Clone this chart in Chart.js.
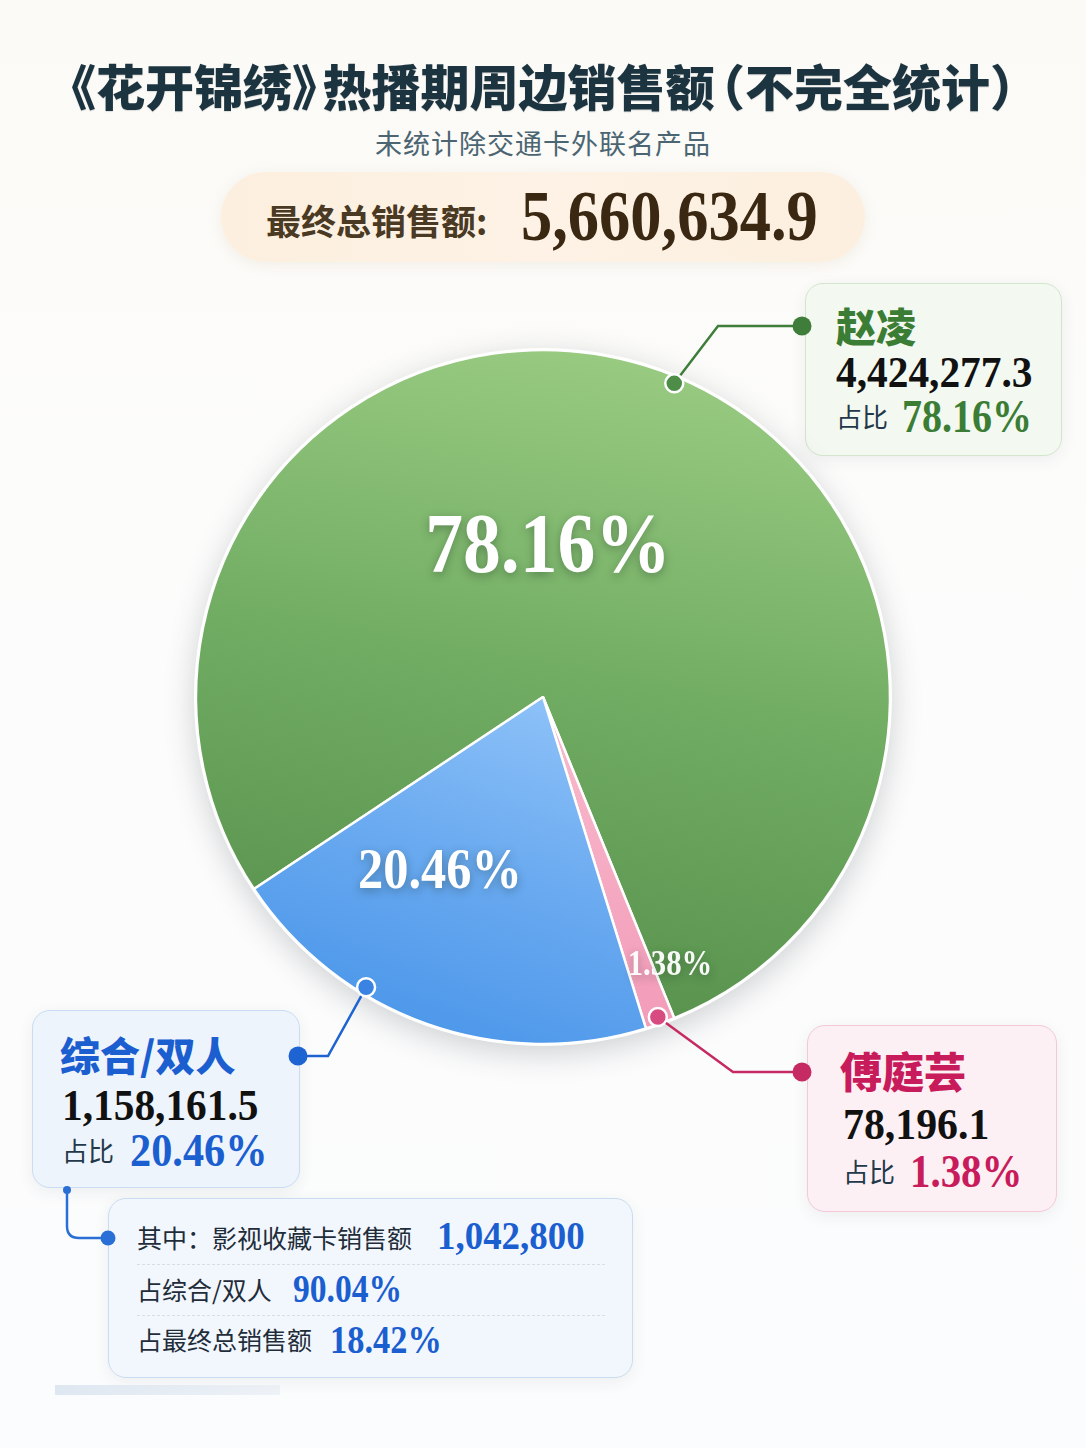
<!DOCTYPE html>
<html lang="zh-CN">
<head>
<meta charset="utf-8">
<title>《花开锦绣》热播期周边销售额</title>
<script src="https://cdn.jsdelivr.net/npm/chart.js@4.4.1/dist/chart.umd.min.js"></script>
<style>
html, body { margin: 0; padding: 0; background: #fcfcfb; }
#page {
    position: relative; width: 1086px; height: 1448px; overflow: hidden;
    background: linear-gradient(#fbfaf6 0%, #fcfcfb 35%, #fbfcfd 100%);
    font-family: "Noto Sans CJK SC", "Noto Sans", sans-serif;
}
#chart4 { position: absolute; left: 0; top: 0; z-index: 3; pointer-events: none; }
.abs { position: absolute; white-space: nowrap; line-height: 1; }
.num {
    font-family: "Liberation Serif", "DejaVu Serif", serif; font-weight: 700;
    transform-origin: left top;
}
.cjk { font-family: "Noto Sans CJK SC", sans-serif; }
.title {
    left: 0; width: 1086px; top: 60px; text-align: center;
    font-size: 49px; font-weight: 900; color: #1c3440;
    font-feature-settings: "halt";
    text-shadow: 0 1px 1px rgba(0,0,0,0.12);
}
.title span { display: inline-block; width: 6px; }
.subtitle { left: 0; width: 1086px; top: 129px; text-align: center; font-size: 27px; color: #4b6572; letter-spacing: 1px; }
.pill {
    position: absolute; left: 221px; top: 172px; width: 644px; height: 90px; border-radius: 45px;
    background: linear-gradient(90deg, #fcefdf 0%, #fdf2e5 50%, #fcefdf 100%);
    box-shadow: 0 3px 14px rgba(180,140,90,0.12);
}
.box {
    position: absolute; border-radius: 18px; box-sizing: border-box;
    box-shadow: 0 4px 16px rgba(40,50,60,0.07);
}
.dash { position: absolute; left: 137px; width: 468px; border-top: 1.5px dashed #d6dee8; height: 0; }
.faint {
    position: absolute; left: 55px; top: 1385px; width: 225px; height: 10px;
    background: linear-gradient(90deg, rgba(210,222,236,0.7), rgba(225,233,242,0.5));
}
</style>
</head>
<body>
<div id="page">
    <div class="abs title">《花开锦绣》<span></span>热播期周边销售额<span></span>（不完全统计）</div>
    <div class="abs subtitle">未统计除交通卡外联名产品</div>

    <div class="pill"></div>
    <div class="abs cjk" style="left:266px;top:202px;font-size:35px;font-weight:700;color:#4a3923;">最终总销售额:</div>
    <div class="abs num" id="total" style="left:521px;top:181px;font-size:71px;color:#3b2812;transform:scaleX(0.88);"></div>

    <!-- 赵凌 -->
    <div class="box" style="left:805px;top:283px;width:257px;height:173px;background:#f3f8f1;border:1.5px solid #d3e5cc;"></div>
    <div class="abs cjk" id="name0" style="left:836px;top:305px;font-size:40px;font-weight:900;color:#3b7d35;"></div>
    <div class="abs num" id="val0" style="left:836px;top:351px;font-size:44px;color:#111;transform:scaleX(0.94);"></div>
    <div class="abs cjk" style="left:836px;top:403px;font-size:26px;color:#23394a;">占比</div>
    <div class="abs num" id="pct0" style="left:902px;top:394px;font-size:46px;color:#3b7d35;transform:scaleX(0.87);"></div>

    <!-- 综合/双人 -->
    <div class="box" style="left:32px;top:1010px;width:268px;height:178px;background:#eef4fc;border:1.5px solid #c9dcf4;"></div>
    <div class="abs cjk" id="name2" style="left:60px;top:1034px;font-size:40px;font-weight:900;color:#1b5ed0;"></div>
    <div class="abs num" id="val2" style="left:62px;top:1084px;font-size:44px;color:#111;transform:scaleX(0.94);"></div>
    <div class="abs cjk" style="left:62px;top:1137px;font-size:26px;color:#23394a;">占比</div>
    <div class="abs num" id="pct2" style="left:130px;top:1127px;font-size:47px;color:#1b5ed0;transform:scaleX(0.9);"></div>

    <!-- 傅庭芸 -->
    <div class="box" style="left:807px;top:1025px;width:250px;height:187px;background:#fdf0f4;border:1.5px solid #f4c8d7;"></div>
    <div class="abs cjk" id="name1" style="left:840px;top:1049px;font-size:42px;font-weight:900;color:#c81b5b;"></div>
    <div class="abs num" id="val1" style="left:843px;top:1103px;font-size:44px;color:#111;transform:scaleX(0.95);"></div>
    <div class="abs cjk" style="left:843px;top:1158px;font-size:26px;color:#23394a;">占比</div>
    <div class="abs num" id="pct1" style="left:910px;top:1148px;font-size:47px;color:#c81b5b;transform:scaleX(0.87);"></div>

    <!-- 其中 -->
    <div class="box" style="left:108px;top:1198px;width:525px;height:180px;background:#f2f7fd;border:1.5px solid #c9dcf2;"></div>
    <div class="abs cjk" style="left:137px;top:1225px;font-size:25px;color:#1f2d3a;">其中：影视收藏卡销售额</div>
    <div class="abs num" id="card" style="left:437px;top:1215px;font-size:41px;color:#1b5ed0;transform:scaleX(0.9);"></div>
    <div class="dash" style="top:1264px;"></div>
    <div class="abs cjk" style="left:137px;top:1277px;font-size:25px;color:#1f2d3a;">占综合/双人</div>
    <div class="abs num" id="cardShare" style="left:293px;top:1269px;font-size:40px;color:#1b5ed0;transform:scaleX(0.84);"></div>
    <div class="dash" style="top:1315px;"></div>
    <div class="abs cjk" style="left:137px;top:1327px;font-size:25px;color:#1f2d3a;">占最终总销售额</div>
    <div class="abs num" id="cardTotal" style="left:330px;top:1320px;font-size:40px;color:#1b5ed0;transform:scaleX(0.86);"></div>

    <div class="faint"></div>

    <canvas id="chart4" width="1086" height="1448"></canvas>
</div>
<script>
// 数据
const names = ['赵凌', '傅庭芸', '综合/双人'];
const sales = [4424277.3, 78196.1, 1158161.5];
const cardSales = 1042800; // 其中：影视收藏卡销售额

const total = sales.reduce((a, b) => a + b, 0);
const money = (v, d) => v.toLocaleString('en-US', {minimumFractionDigits: d, maximumFractionDigits: d});
const pct = (part, whole) => (part / whole * 100).toFixed(2) + '%';

// fill the text boxes from the data
document.getElementById('total').textContent = money(total, 1);
names.forEach((n, i) => {
    document.getElementById('name' + i).textContent = n;
    document.getElementById('val' + i).textContent = money(sales[i], 1);
    document.getElementById('pct' + i).textContent = pct(sales[i], total);
});
document.getElementById('card').textContent = money(cardSales, 0);
document.getElementById('cardShare').textContent = pct(cardSales, sales[2]);
document.getElementById('cardTotal').textContent = pct(cardSales, total);

const RADIUS = 347;

// gradient per slice (stops, from, to in units of the radius)
const fills = [
    {stops: ['#9acc82', '#72ad64', '#58924d'], from: [0.35, -1.0], to: [0.0, 0.9]},
    {stops: ['#f8b7cb', '#f29ab7'], from: [0.2, 0.1], to: [0.4, 1.0]},
    {stops: ['#8ec2f8', '#6aaaf0', '#4c97ea'], from: [0.05, 0], to: [-0.3, 1.0]}
];
function sliceFill(c) {
    const f = fills[c.dataIndex] || fills[0];
    const area = c.chart.chartArea;
    if (!area) return f.stops[1];
    const cx = (area.left + area.right) / 2, cy = (area.top + area.bottom) / 2;
    const g = c.chart.ctx.createLinearGradient(
        cx + f.from[0] * RADIUS, cy + f.from[1] * RADIUS, cx + f.to[0] * RADIUS, cy + f.to[1] * RADIUS);
    f.stops.forEach((s, i) => g.addColorStop(i / (f.stops.length - 1), s));
    return g;
}

// in-slice percentage labels
const labelStyle = [
    {dx: 5, dy: -125, size: 84, sx: 0.9, color: '#ffffff'},
    {dx: 127, dy: 278, size: 35, sx: 0.88, color: 'rgba(255,255,255,0.95)'},
    {dx: -103, dy: 191, size: 56, sx: 0.9, color: '#ffffff'}
];
const sliceLabels = {
    id: 'sliceLabels',
    beforeDatasetsDraw(chart) {
        const arc = chart.getDatasetMeta(0).data[0];
        const ctx = chart.ctx;
        ctx.save();
        ctx.shadowColor = 'rgba(50,60,70,0.22)';
        ctx.shadowBlur = 30;
        ctx.shadowOffsetY = 8;
        ctx.fillStyle = '#ffffff';
        ctx.beginPath();
        ctx.arc(arc.x, arc.y, arc.outerRadius + 2, 0, Math.PI * 2);
        ctx.fill();
        ctx.restore();
    },
    afterDatasetsDraw(chart) {
        const ctx = chart.ctx;
        chart.getDatasetMeta(0).data.forEach((arc, i) => {
            const s = labelStyle[i];
            ctx.save();
            ctx.translate(arc.x + s.dx, arc.y + s.dy);
            ctx.scale(s.sx, 1);
            ctx.font = 'bold ' + s.size + 'px "Liberation Serif", serif';
            ctx.textAlign = 'center';
            ctx.textBaseline = 'alphabetic';
            ctx.shadowColor = 'rgba(20,40,30,0.35)';
            ctx.shadowBlur = 10;
            ctx.shadowOffsetY = 3;
            ctx.fillStyle = s.color;
            ctx.fillText(pct(sales[i], total), 0, 0);
            ctx.restore();
        });
    }
};

// leader lines from slice edge to the callout boxes
const leaders = [
    {at: 0.52, elbow: [718, 326], end: [802, 326], line: '#3f7e3a', dot: '#4e8d48'},
    {at: 0.5, elbow: [733, 1072], end: [802, 1072], line: '#c52a63', dot: '#d84b80'},
    {at: 0.66, elbow: [328, 1056], end: [298, 1056], line: '#1d63d2', dot: '#3a83e2'}
];
const leaderLines = {
    id: 'leaderLines',
    afterDraw(chart) {
        const ctx = chart.ctx;
        const arcs = chart.getDatasetMeta(0).data;
        leaders.forEach((l, i) => {
            const arc = arcs[i];
            const a = arc.startAngle + (arc.endAngle - arc.startAngle) * l.at;
            const px = arc.x + Math.cos(a) * (arc.outerRadius - 7);
            const py = arc.y + Math.sin(a) * (arc.outerRadius - 7);
            ctx.save();
            ctx.strokeStyle = l.line;
            ctx.lineWidth = 2.5;
            ctx.beginPath();
            ctx.moveTo(px, py);
            ctx.lineTo(l.elbow[0], l.elbow[1]);
            ctx.lineTo(l.end[0], l.end[1]);
            ctx.stroke();
            // dot on the slice
            ctx.beginPath();
            ctx.arc(px, py, 9, 0, Math.PI * 2);
            ctx.fillStyle = l.dot;
            ctx.fill();
            ctx.lineWidth = 2.5;
            ctx.strokeStyle = '#ffffff';
            ctx.stroke();
            // dot at the box
            ctx.beginPath();
            ctx.arc(l.end[0], l.end[1], 9.5, 0, Math.PI * 2);
            ctx.fillStyle = l.line;
            ctx.fill();
            ctx.restore();
        });
        // connector to the 其中 box
        ctx.save();
        ctx.strokeStyle = '#2a6fd6';
        ctx.fillStyle = '#2a6fd6';
        ctx.lineWidth = 2.5;
        ctx.beginPath();
        ctx.moveTo(67, 1190);
        ctx.lineTo(67, 1226);
        ctx.quadraticCurveTo(67, 1238, 79, 1238);
        ctx.lineTo(108, 1238);
        ctx.stroke();
        ctx.beginPath();
        ctx.arc(67, 1190, 4, 0, Math.PI * 2);
        ctx.fill();
        ctx.beginPath();
        ctx.arc(108, 1238, 7.5, 0, Math.PI * 2);
        ctx.fill();
        ctx.restore();
    }
};

const data4 = {
    labels: names,
    datasets: [{
        data: sales,
        backgroundColor: sliceFill,
        borderColor: '#ffffff',
        borderWidth: 2.5
    }]
};

const config4 = {
    type: 'pie',
    data: data4,
    options: {
        responsive: false,
        animation: false,
        radius: RADIUS,
        rotation: 236.4,
        layout: {
            padding: {top: 300, bottom: 354, left: 0, right: 0}
        },
        plugins: {
            legend: {display: false},
            tooltip: {enabled: false}
        }
    },
    plugins: [sliceLabels, leaderLines]
};

const chart44 = document.getElementById('chart4').getContext('2d');
const chart4 = new Chart(chart44, config4);
</script>
</body>
</html>
